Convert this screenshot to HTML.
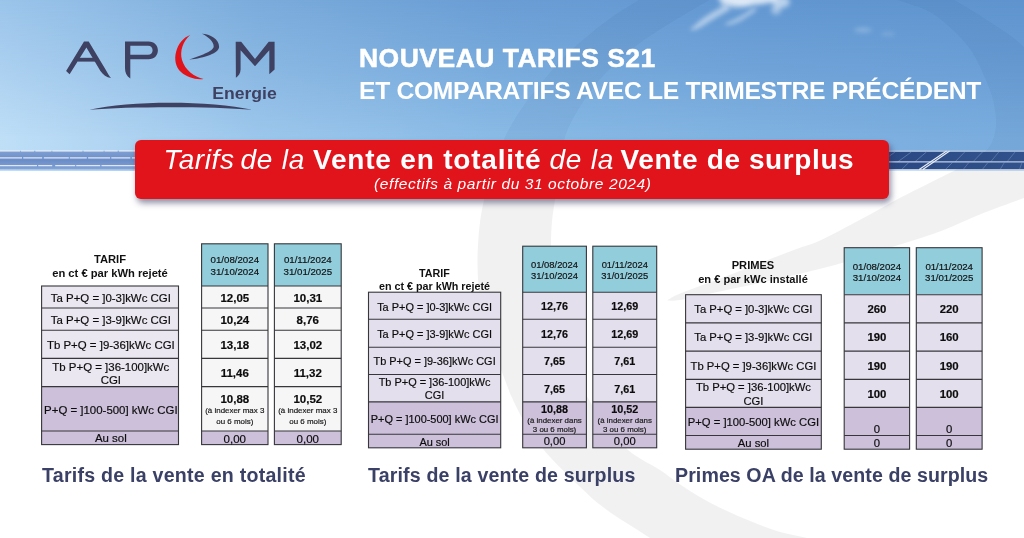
<!DOCTYPE html>
<html lang="fr">
<head>
<meta charset="utf-8">
<title>APEM Energie - Nouveau tarifs S21</title>
<style>
html,body{margin:0;padding:0;}
body{width:1024px;height:538px;overflow:hidden;position:relative;background:#fff;font-family:"Liberation Sans",sans-serif;}
#stage{position:absolute;left:0;top:0;width:1024px;height:538px;overflow:hidden;background:#fff;}
#txt{position:absolute;left:0;top:0;width:1024px;height:538px;will-change:transform;}
.abs{position:absolute;}
#skyb{left:0;top:0;width:1024px;height:171px;background:linear-gradient(90deg,#bfdff7 0%,#9dc7ec 25%,#8abbe6 48%,#80b2e1 75%,#7aaddf 100%);}
#skyt{left:0;top:0;width:1024px;height:171px;background:linear-gradient(90deg,#9bc4ea 0%,#7aabdb 25%,#6a9dd4 48%,#6196d0 75%,#5e93ce 100%);-webkit-mask-image:linear-gradient(180deg,#000 0%,rgba(0,0,0,.52) 42%,rgba(0,0,0,0) 80%);mask-image:linear-gradient(180deg,#000 0%,rgba(0,0,0,.52) 42%,rgba(0,0,0,0) 80%);}
#bgsvg{left:0;top:0;width:1024px;height:538px;}
#banner{left:135px;top:139.5px;width:754px;height:59px;background:#e1141c;border-radius:6px;box-shadow:2px 4px 6px rgba(50,50,90,.55);}
#b1{left:135px;top:144.2px;width:754px;height:32px;line-height:32px;color:#fff;white-space:nowrap;font-size:28px;}
#b1 span{position:absolute;top:0;white-space:nowrap;}
#b1 .it{font-style:italic;font-weight:400;}
#b1 .bd{font-weight:700;}
#b2{left:374.2px;top:174px;height:20px;line-height:20px;color:#fff;font-style:italic;font-size:15.5px;letter-spacing:.6px;white-space:nowrap;}
.h1,#b1,#b2,.cap,#logo{will-change:transform;}
.h1{color:#fff;font-weight:700;white-space:nowrap;left:360px;}
#h1a{-webkit-text-stroke:.5px #fff;top:40px;font-size:26.5px;line-height:36px;letter-spacing:.48px;left:358.5px;}
#h1b{top:72.5px;font-size:24.7px;line-height:36px;letter-spacing:-.32px;left:358.5px;}
.cap{color:#3b4166;font-weight:700;font-size:19.6px;line-height:26px;white-space:nowrap;top:462.1px;}
.c{position:absolute;box-sizing:border-box;display:flex;align-items:center;justify-content:center;text-align:center;color:#0c0c0c;-webkit-text-stroke:.18px #0c0c0c;font-size:11px;line-height:12px;white-space:nowrap;}
.c b{font-weight:700;}
.c u{text-decoration:none;}
.hd{color:#141414;}
.tt{position:absolute;text-align:center;font-weight:700;color:#111;white-space:nowrap;}
.mx{display:block;}
.mx b{display:block;}
.mx i{display:block;font-style:normal;color:#222;}
.bt{align-self:flex-end;margin-bottom:1px;}
/* table 1 */
.lab.t1{font-size:11.45px;line-height:13.8px;}
.hd.t1{font-size:9.7px;line-height:11.6px;}
.val.t1 b{font-size:11.5px;line-height:12.5px;}
.val.t1 u{font-size:11.5px;}
.val.t1 .mx i{font-size:7.95px;line-height:10.4px;margin-top:.6px;}
.tt.t1{font-size:11.2px;line-height:14.3px;}
/* table 2 */
.lab.t2{font-size:10.95px;line-height:13px;}
.hd.t2{font-size:9.38px;line-height:11.1px;}
.val.t2 b{font-size:10.8px;line-height:12px;}
.val.t2 u{font-size:11.2px;}
.val.t2 .mx i{font-size:7.9px;line-height:9.4px;margin-top:.5px;}
.tt.t2{font-size:10.76px;line-height:13.5px;}
/* table 3 */
.lab.t3{font-size:11.26px;line-height:13.8px;}
.hd.t3{font-size:9.66px;line-height:11.6px;}
.val.t3 b{font-size:11.4px;line-height:12px;}
.val.t3 u{font-size:11.3px;}
.tt.t3{font-size:11.1px;line-height:14.2px;}
</style>
</head>
<body>
<div id="stage">
<div id="skyb" class="abs"></div>
<div id="skyt" class="abs"></div>
<svg id="bgsvg" class="abs" viewBox="0 0 1024 538">
  <!-- clouds -->
  <defs><filter id="cb" x="-20%" y="-80%" width="140%" height="260%"><feGaussianBlur stdDeviation="2.6"/></filter><filter id="cb2" x="-30%" y="-50%" width="160%" height="200%"><feGaussianBlur stdDeviation="2.2"/></filter></defs>
  <g filter="url(#cb)" fill="#f4f8fd">
    <ellipse cx="748" cy="-2" rx="30" ry="7" opacity=".8"/>
    <ellipse cx="736" cy="4" rx="16" ry="4" opacity=".55"/>
    <ellipse cx="781" cy="2" rx="9" ry="6" opacity=".6"/>
    <ellipse cx="776" cy="10" rx="5" ry="4.5" opacity=".45"/>
  </g>
  <g filter="url(#cb2)" fill="#f4f8fd">
    <path d="M726 5 C714 10 700 19 690 30 C694 31 700 28 706 24 C714 19 722 14 730 10 Z" opacity=".5"/>
    <path d="M752 8 C746 13 736 19 724 24 C728 27 738 23 744 19 C750 15 755 12 758 9 Z" opacity=".42"/>
    <ellipse cx="863" cy="30" rx="9" ry="3" opacity=".2"/>
    <ellipse cx="888" cy="34" rx="7" ry="2.4" opacity=".13"/>
  </g>
  <!-- solar strip left -->
  <defs><linearGradient id="sl" x1="0" y1="0" x2="0" y2="1"><stop offset="0" stop-color="#7f9fd2"/><stop offset=".5" stop-color="#6b8dc7"/><stop offset=".85" stop-color="#7a9bd0"/><stop offset="1" stop-color="#88a5d6"/></linearGradient>
  <linearGradient id="sr" x1="0" y1="0" x2="1" y2="0"><stop offset="0" stop-color="#2a4883"/><stop offset="1" stop-color="#33558f"/></linearGradient></defs>
  <rect x="0" y="151.2" width="136" height="18.2" fill="url(#sl)"/>
  <g stroke-width="1.3" fill="none">
    <path d="M0 150.8H136" stroke="#e3ebf6" stroke-dasharray="20 1 13 1.4 16 1 30 1.2"/>
    <path d="M0 157.9H136" stroke="#dfe7f4" stroke-dasharray="22 1.2 19 1.6 25 1 17 1.3"/>
    <path d="M0 165.6H136" stroke="#dfe7f4" stroke-dasharray="37 1.2 14 3 20 1 24 1.3"/>
  </g>
  <!-- solar strip right -->
  <rect x="888" y="151.5" width="136" height="18" fill="url(#sr)"/>
  <path d="M888 151.2H1024" stroke="#b9c8e2" stroke-width="1.3"/>
  <g stroke="#7089ba" stroke-width=".65" fill="none">
    <path d="M895 152L889.5 156M911.3 152L897.7 161.9M926.4 152L914.8 161.9M908.6 162.6L901.8 169.4M964.7 152L955 161.9M982.4 152L972.9 161.9M998.8 152L990.6 161.9M1015 152L1007 161.9M952.4 162.6L945.5 169.4M968.8 162.6L963.3 169.4M987.9 162.6L982.4 169.4M1004.3 162.6L1000.2 169.4M1022 162.6L1019.5 169.4"/>
  </g>
  <path d="M888 161.9H1024" stroke="#c3cfe6" stroke-width="1.4"/>
  <path d="M946.6 151L919.2 169.6M949.6 151L922.8 169.6" stroke="#e6ecf6" stroke-width="1.2" fill="none"/>
  <rect x="888" y="169.4" width="136" height="1.2" fill="#fff"/>
  <!-- swoosh -->
  <defs><clipPath id="cs"><rect x="0" y="0" width="1024" height="170.5"/></clipPath><clipPath id="cw"><rect x="0" y="170.5" width="1024" height="368"/></clipPath></defs>
  <path d="M650.0 538.0 C647.7 536.5 641.5 532.5 636.0 529.0 C630.5 525.5 623.5 521.4 617.0 517.0 C610.5 512.6 603.5 507.8 597.0 502.5 C590.5 497.2 584.5 491.2 578.0 485.0 C571.5 478.8 564.0 471.6 558.0 465.4 C552.0 459.2 547.3 454.5 542.0 447.8 C536.7 441.1 530.8 433.0 526.0 425.0 C521.2 417.0 516.8 408.3 513.0 400.0 C509.2 391.7 506.5 384.2 503.0 375.0 C499.5 365.8 495.2 355.0 492.0 345.0 C488.8 335.0 486.2 324.2 484.0 315.0 C481.8 305.8 480.1 298.3 479.0 290.0 C477.9 281.7 477.7 272.5 477.5 265.0 C477.3 257.5 477.6 252.2 478.0 245.0 C478.4 237.8 479.0 229.5 480.0 222.0 C481.0 214.5 482.0 208.5 484.0 200.0 C486.0 191.5 488.5 181.5 492.0 171.0 C495.5 160.5 500.0 147.5 505.0 137.0 C510.0 126.5 515.7 117.3 522.0 108.0 C528.3 98.7 535.8 89.7 543.0 81.0 C550.2 72.3 557.2 63.8 565.0 56.0 C572.8 48.2 582.2 40.5 590.0 34.0 C597.8 27.5 604.7 22.2 612.0 17.0 C619.3 11.8 626.0 7.8 634.0 3.0 C642.0 -1.8 639.0 -3.2 660.0 -12.0 C681.0 -20.8 723.3 -45.3 760.0 -50.0 C796.7 -54.7 847.7 -48.3 880.0 -40.0 C912.3 -31.7 935.7 -10.3 954.0 0.0 C972.3 10.3 978.3 14.2 990.0 22.0 C1001.7 29.8 1012.3 35.7 1024.0 47.0 C1035.7 58.3 1051.5 72.8 1060.0 90.0 C1068.5 107.2 1075.0 134.2 1075.0 150.0 C1075.0 165.8 1068.5 177.0 1060.0 185.0 C1051.5 193.0 1030.0 195.8 1024.0 198.0 L1024.0 198.0 C1017.2 200.5 997.1 207.6 983.5 213.0 C969.9 218.4 956.2 225.3 942.6 230.5 C929.0 235.7 914.2 240.0 901.8 244.0 C889.4 248.0 879.1 251.0 868.0 254.5 C856.9 258.0 847.2 261.6 835.0 265.0 C822.8 268.4 808.3 271.8 795.0 275.0 C781.7 278.2 768.3 281.1 755.0 284.0 C741.7 286.9 727.5 289.8 715.0 292.5 C702.5 295.2 688.0 298.7 680.0 300.0 C672.0 301.3 669.2 300.4 667.0 300.5 L667.0 300.5 C669.2 299.3 672.0 296.8 680.0 293.5 C688.0 290.2 702.5 285.2 715.0 280.5 C727.5 275.8 741.7 270.2 755.0 265.0 C768.3 259.8 784.2 253.6 795.0 249.5 C805.8 245.4 809.0 245.5 820.0 240.5 C831.0 235.5 847.3 226.6 861.0 219.3 C874.7 212.0 888.4 204.0 902.0 196.8 C915.6 189.7 933.8 180.8 942.6 176.4 C951.4 172.0 949.6 173.1 955.0 170.2 C960.4 167.3 969.2 163.0 975.0 159.0 C980.8 155.0 986.5 151.7 990.0 146.0 C993.5 140.3 995.5 132.7 996.0 125.0 C996.5 117.3 994.8 107.8 993.0 100.0 C991.2 92.2 988.5 86.0 985.0 78.0 C981.5 70.0 977.2 59.8 972.0 52.0 C966.8 44.2 961.0 37.7 954.0 31.0 C947.0 24.3 939.3 17.2 930.0 12.0 C920.7 6.8 909.7 4.5 898.0 0.0 C886.3 -4.5 876.3 -10.8 860.0 -15.0 C843.7 -19.2 820.0 -25.0 800.0 -25.0 C780.0 -25.0 754.2 -18.7 740.0 -15.0 C725.8 -11.3 721.8 -6.5 715.0 -3.0 C708.2 0.5 705.3 2.3 699.0 6.0 C692.7 9.7 685.2 14.0 677.0 19.0 C668.8 24.0 658.3 30.3 650.0 36.0 C641.7 41.7 633.7 47.5 627.0 53.0 C620.3 58.5 615.2 63.8 610.0 69.0 C604.8 74.2 601.3 77.2 596.0 84.0 C590.7 90.8 583.2 101.2 578.0 110.0 C572.8 118.8 568.0 126.8 565.0 137.0 C562.0 147.2 561.7 160.5 560.0 171.0 C558.3 181.5 556.3 191.5 555.0 200.0 C553.7 208.5 552.7 214.5 552.0 222.0 C551.3 229.5 551.0 236.2 551.0 245.0 C551.0 253.8 551.2 264.2 552.0 275.0 C552.8 285.8 554.2 299.2 556.0 310.0 C557.8 320.8 560.0 330.0 563.0 340.0 C566.0 350.0 569.8 360.3 574.0 370.0 C578.2 379.7 582.7 388.8 588.0 398.0 C593.3 407.2 599.7 416.7 606.0 425.0 C612.3 433.3 620.2 442.3 626.0 448.0 C631.8 453.7 635.3 455.3 641.0 459.0 C646.7 462.7 653.6 465.8 660.0 470.0 C666.4 474.2 673.0 479.6 679.5 484.0 C686.0 488.4 692.5 492.8 699.0 496.6 C705.5 500.4 712.1 503.8 718.6 507.0 C725.1 510.2 731.5 513.2 738.0 516.0 C744.5 518.8 751.2 521.5 757.7 524.0 C764.2 526.5 770.5 529.0 777.0 531.0 C783.5 533.0 791.5 534.5 796.7 535.7 C801.9 536.9 806.1 537.6 808.0 538.0 Z" fill="rgba(10,30,80,0.04)" clip-path="url(#cs)"/>
  <path d="M650.0 538.0 C647.7 536.5 641.5 532.5 636.0 529.0 C630.5 525.5 623.5 521.4 617.0 517.0 C610.5 512.6 603.5 507.8 597.0 502.5 C590.5 497.2 584.5 491.2 578.0 485.0 C571.5 478.8 564.0 471.6 558.0 465.4 C552.0 459.2 547.3 454.5 542.0 447.8 C536.7 441.1 530.8 433.0 526.0 425.0 C521.2 417.0 516.8 408.3 513.0 400.0 C509.2 391.7 506.5 384.2 503.0 375.0 C499.5 365.8 495.2 355.0 492.0 345.0 C488.8 335.0 486.2 324.2 484.0 315.0 C481.8 305.8 480.1 298.3 479.0 290.0 C477.9 281.7 477.7 272.5 477.5 265.0 C477.3 257.5 477.6 252.2 478.0 245.0 C478.4 237.8 479.0 229.5 480.0 222.0 C481.0 214.5 482.0 208.5 484.0 200.0 C486.0 191.5 488.5 181.5 492.0 171.0 C495.5 160.5 500.0 147.5 505.0 137.0 C510.0 126.5 515.7 117.3 522.0 108.0 C528.3 98.7 535.8 89.7 543.0 81.0 C550.2 72.3 557.2 63.8 565.0 56.0 C572.8 48.2 582.2 40.5 590.0 34.0 C597.8 27.5 604.7 22.2 612.0 17.0 C619.3 11.8 626.0 7.8 634.0 3.0 C642.0 -1.8 639.0 -3.2 660.0 -12.0 C681.0 -20.8 723.3 -45.3 760.0 -50.0 C796.7 -54.7 847.7 -48.3 880.0 -40.0 C912.3 -31.7 935.7 -10.3 954.0 0.0 C972.3 10.3 978.3 14.2 990.0 22.0 C1001.7 29.8 1012.3 35.7 1024.0 47.0 C1035.7 58.3 1051.5 72.8 1060.0 90.0 C1068.5 107.2 1075.0 134.2 1075.0 150.0 C1075.0 165.8 1068.5 177.0 1060.0 185.0 C1051.5 193.0 1030.0 195.8 1024.0 198.0 L1024.0 198.0 C1017.2 200.5 997.1 207.6 983.5 213.0 C969.9 218.4 956.2 225.3 942.6 230.5 C929.0 235.7 914.2 240.0 901.8 244.0 C889.4 248.0 879.1 251.0 868.0 254.5 C856.9 258.0 847.2 261.6 835.0 265.0 C822.8 268.4 808.3 271.8 795.0 275.0 C781.7 278.2 768.3 281.1 755.0 284.0 C741.7 286.9 727.5 289.8 715.0 292.5 C702.5 295.2 688.0 298.7 680.0 300.0 C672.0 301.3 669.2 300.4 667.0 300.5 L667.0 300.5 C669.2 299.3 672.0 296.8 680.0 293.5 C688.0 290.2 702.5 285.2 715.0 280.5 C727.5 275.8 741.7 270.2 755.0 265.0 C768.3 259.8 784.2 253.6 795.0 249.5 C805.8 245.4 809.0 245.5 820.0 240.5 C831.0 235.5 847.3 226.6 861.0 219.3 C874.7 212.0 888.4 204.0 902.0 196.8 C915.6 189.7 933.8 180.8 942.6 176.4 C951.4 172.0 949.6 173.1 955.0 170.2 C960.4 167.3 969.2 163.0 975.0 159.0 C980.8 155.0 986.5 151.7 990.0 146.0 C993.5 140.3 995.5 132.7 996.0 125.0 C996.5 117.3 994.8 107.8 993.0 100.0 C991.2 92.2 988.5 86.0 985.0 78.0 C981.5 70.0 977.2 59.8 972.0 52.0 C966.8 44.2 961.0 37.7 954.0 31.0 C947.0 24.3 939.3 17.2 930.0 12.0 C920.7 6.8 909.7 4.5 898.0 0.0 C886.3 -4.5 876.3 -10.8 860.0 -15.0 C843.7 -19.2 820.0 -25.0 800.0 -25.0 C780.0 -25.0 754.2 -18.7 740.0 -15.0 C725.8 -11.3 721.8 -6.5 715.0 -3.0 C708.2 0.5 705.3 2.3 699.0 6.0 C692.7 9.7 685.2 14.0 677.0 19.0 C668.8 24.0 658.3 30.3 650.0 36.0 C641.7 41.7 633.7 47.5 627.0 53.0 C620.3 58.5 615.2 63.8 610.0 69.0 C604.8 74.2 601.3 77.2 596.0 84.0 C590.7 90.8 583.2 101.2 578.0 110.0 C572.8 118.8 568.0 126.8 565.0 137.0 C562.0 147.2 561.7 160.5 560.0 171.0 C558.3 181.5 556.3 191.5 555.0 200.0 C553.7 208.5 552.7 214.5 552.0 222.0 C551.3 229.5 551.0 236.2 551.0 245.0 C551.0 253.8 551.2 264.2 552.0 275.0 C552.8 285.8 554.2 299.2 556.0 310.0 C557.8 320.8 560.0 330.0 563.0 340.0 C566.0 350.0 569.8 360.3 574.0 370.0 C578.2 379.7 582.7 388.8 588.0 398.0 C593.3 407.2 599.7 416.7 606.0 425.0 C612.3 433.3 620.2 442.3 626.0 448.0 C631.8 453.7 635.3 455.3 641.0 459.0 C646.7 462.7 653.6 465.8 660.0 470.0 C666.4 474.2 673.0 479.6 679.5 484.0 C686.0 488.4 692.5 492.8 699.0 496.6 C705.5 500.4 712.1 503.8 718.6 507.0 C725.1 510.2 731.5 513.2 738.0 516.0 C744.5 518.8 751.2 521.5 757.7 524.0 C764.2 526.5 770.5 529.0 777.0 531.0 C783.5 533.0 791.5 534.5 796.7 535.7 C801.9 536.9 806.1 537.6 808.0 538.0 Z" fill="rgba(0,0,0,0.055)" clip-path="url(#cw)"/>
</svg>
<div id="banner" class="abs"></div>
<div id="b1" class="abs"><span class="it" style="left:28.5px;letter-spacing:.6px">Tarifs</span><span class="it" style="left:105.5px;letter-spacing:.78px">de la</span><span class="bd" style="left:178px;letter-spacing:.8px">Vente en totalité</span><span class="it" style="left:414.5px;letter-spacing:.78px">de la</span><span class="bd" style="left:485.6px;letter-spacing:.6px">Vente de surplus</span></div>
<div id="b2" class="abs">(effectifs à partir du 31 octobre 2024)</div>
<div id="h1a" class="abs h1">NOUVEAU TARIFS S21</div>
<div id="h1b" class="abs h1">ET COMPARATIFS AVEC LE TRIMESTRE PRÉCÉDENT</div>
<svg id="logo" class="abs" style="left:0;top:0;width:300px;height:125px" viewBox="0 0 300 125">
  <g fill="#3e4162">
    <!-- A -->
    <path d="M84 41.4 L88.7 41.4 L105.7 69.8 C107.5 73 109 76 111 78 C106.5 77.3 103 74.8 100.4 71 L86.4 47.6 L69.6 74.3 L66.1 71 Z"/>
    <rect x="77.5" y="57.8" width="19.5" height="3.8"/>
    <!-- P -->
    <path d="M125 41.4 L148.5 41.4 C154.5 41.4 157.9 45.5 157.9 50.3 C157.9 55.3 154.5 59.3 148.5 59.3 L130.3 59.3 L130.3 78.6 C126.5 76 125 72.5 125 68 Z M130.3 45.8 L130.3 54.8 L148 54.8 C151 54.8 152.6 52.8 152.6 50.3 C152.6 47.8 151 45.8 148 45.8 Z" fill-rule="evenodd"/>
    <!-- e hook -->
    <path d="M201.9 33.8 C210 34 219.1 39 219.1 46.7 C219.1 53 205 58 189 59.6 C199 56 213.5 51.5 213.7 46.5 C213.8 41.5 208 36.5 201.9 33.8 Z"/>
    <!-- M -->
    <path d="M235.7 41.8 L241.2 41.8 L255 59 L268.7 41.8 L274.6 41.8 L274.6 69.5 L269.3 74.2 L269.3 50.2 L255 66.3 L240.6 50.2 L240.6 69.5 C240.4 73.5 238.5 76 235.9 77.7 Z"/>
    <!-- underline arc -->
    <path d="M89.2 109.7 C130 100.3 210 100.3 252.3 109.7 C210 106.4 130 106.4 89.2 109.7 Z"/>
  </g>
  <!-- red crescent -->
  <path d="M190.2 35 C176 40 170 62 181 72 C187 77.5 196 80 203.7 78.9 C194 77 185 70 182 60 C179.5 51 183 41 190.2 35 Z" fill="#e1141c"/>
  <text x="212.2" y="98.8" font-family="Liberation Sans, sans-serif" font-weight="700" font-size="16.4" fill="#3e4162" textLength="64.5" lengthAdjust="spacingAndGlyphs">Energie</text>
</svg>
<svg class="abs" style="left:0;top:0;width:1024px;height:538px" viewBox="0 0 1024 538"><g><rect x="41.60" y="286.00" width="136.90" height="22.00" fill="#ebe7f0"/><rect x="41.60" y="308.00" width="136.90" height="22.20" fill="#ebe7f0"/><rect x="41.60" y="330.20" width="136.90" height="28.20" fill="#ebe7f0"/><rect x="41.60" y="358.40" width="136.90" height="28.20" fill="#ebe7f0"/><rect x="41.60" y="386.60" width="136.90" height="44.40" fill="#ccc0da"/><rect x="41.60" y="431.00" width="136.90" height="13.60" fill="#ccc0da"/><rect x="201.60" y="243.80" width="66.40" height="42.20" fill="#92cddc"/><rect x="201.60" y="286.00" width="66.40" height="22.00" fill="#f6f6f6"/><rect x="201.60" y="308.00" width="66.40" height="22.20" fill="#f6f6f6"/><rect x="201.60" y="330.20" width="66.40" height="28.20" fill="#f6f6f6"/><rect x="201.60" y="358.40" width="66.40" height="28.20" fill="#f6f6f6"/><rect x="201.60" y="386.60" width="66.40" height="44.40" fill="#f6f6f6"/><rect x="201.60" y="431.00" width="66.40" height="13.60" fill="#ccc0da"/><rect x="274.40" y="243.80" width="66.80" height="42.20" fill="#92cddc"/><rect x="274.40" y="286.00" width="66.80" height="22.00" fill="#f6f6f6"/><rect x="274.40" y="308.00" width="66.80" height="22.20" fill="#f6f6f6"/><rect x="274.40" y="330.20" width="66.80" height="28.20" fill="#f6f6f6"/><rect x="274.40" y="358.40" width="66.80" height="28.20" fill="#f6f6f6"/><rect x="274.40" y="386.60" width="66.80" height="44.40" fill="#f6f6f6"/><rect x="274.40" y="431.00" width="66.80" height="13.60" fill="#ccc0da"/><rect x="368.50" y="292.20" width="132.20" height="27.00" fill="#e4dfec"/><rect x="368.50" y="319.20" width="132.20" height="28.00" fill="#e4dfec"/><rect x="368.50" y="347.20" width="132.20" height="27.30" fill="#e4dfec"/><rect x="368.50" y="374.50" width="132.20" height="27.40" fill="#e4dfec"/><rect x="368.50" y="401.90" width="132.20" height="32.30" fill="#ccc0da"/><rect x="368.50" y="434.20" width="132.20" height="13.60" fill="#ccc0da"/><rect x="522.70" y="246.20" width="63.70" height="46.00" fill="#92cddc"/><rect x="522.70" y="292.20" width="63.70" height="27.00" fill="#e4dfec"/><rect x="522.70" y="319.20" width="63.70" height="28.00" fill="#e4dfec"/><rect x="522.70" y="347.20" width="63.70" height="27.30" fill="#e4dfec"/><rect x="522.70" y="374.50" width="63.70" height="27.40" fill="#e4dfec"/><rect x="522.70" y="401.90" width="63.70" height="32.30" fill="#ccc0da"/><rect x="522.70" y="434.20" width="63.70" height="13.60" fill="#ccc0da"/><rect x="592.80" y="246.20" width="63.90" height="46.00" fill="#92cddc"/><rect x="592.80" y="292.20" width="63.90" height="27.00" fill="#e4dfec"/><rect x="592.80" y="319.20" width="63.90" height="28.00" fill="#e4dfec"/><rect x="592.80" y="347.20" width="63.90" height="27.30" fill="#e4dfec"/><rect x="592.80" y="374.50" width="63.90" height="27.40" fill="#e4dfec"/><rect x="592.80" y="401.90" width="63.90" height="32.30" fill="#ccc0da"/><rect x="592.80" y="434.20" width="63.90" height="13.60" fill="#ccc0da"/><rect x="685.60" y="294.70" width="135.70" height="28.20" fill="#e4dfec"/><rect x="685.60" y="322.90" width="135.70" height="28.20" fill="#e4dfec"/><rect x="685.60" y="351.10" width="135.70" height="28.30" fill="#e4dfec"/><rect x="685.60" y="379.40" width="135.70" height="28.00" fill="#e4dfec"/><rect x="685.60" y="407.40" width="135.70" height="28.10" fill="#ccc0da"/><rect x="685.60" y="435.50" width="135.70" height="13.70" fill="#ccc0da"/><rect x="844.20" y="247.70" width="65.40" height="47.00" fill="#92cddc"/><rect x="844.20" y="294.70" width="65.40" height="28.20" fill="#e4dfec"/><rect x="844.20" y="322.90" width="65.40" height="28.20" fill="#e4dfec"/><rect x="844.20" y="351.10" width="65.40" height="28.30" fill="#e4dfec"/><rect x="844.20" y="379.40" width="65.40" height="28.00" fill="#e4dfec"/><rect x="844.20" y="407.40" width="65.40" height="28.10" fill="#ccc0da"/><rect x="844.20" y="435.50" width="65.40" height="13.70" fill="#ccc0da"/><rect x="916.30" y="247.70" width="65.80" height="47.00" fill="#92cddc"/><rect x="916.30" y="294.70" width="65.80" height="28.20" fill="#e4dfec"/><rect x="916.30" y="322.90" width="65.80" height="28.20" fill="#e4dfec"/><rect x="916.30" y="351.10" width="65.80" height="28.30" fill="#e4dfec"/><rect x="916.30" y="379.40" width="65.80" height="28.00" fill="#e4dfec"/><rect x="916.30" y="407.40" width="65.80" height="28.10" fill="#ccc0da"/><rect x="916.30" y="435.50" width="65.80" height="13.70" fill="#ccc0da"/></g><g fill="none" stroke="#36363b" stroke-width="1.1"><rect x="41.60" y="286.00" width="136.90" height="158.60"/><path d="M41.60 308.00H178.50"/><path d="M41.60 330.20H178.50"/><path d="M41.60 358.40H178.50"/><path d="M41.60 386.60H178.50"/><path d="M41.60 431.00H178.50"/><rect x="201.60" y="243.80" width="66.40" height="200.80"/><path d="M201.60 286.00H268.00"/><path d="M201.60 308.00H268.00"/><path d="M201.60 330.20H268.00"/><path d="M201.60 358.40H268.00"/><path d="M201.60 386.60H268.00"/><path d="M201.60 431.00H268.00"/><rect x="274.40" y="243.80" width="66.80" height="200.80"/><path d="M274.40 286.00H341.20"/><path d="M274.40 308.00H341.20"/><path d="M274.40 330.20H341.20"/><path d="M274.40 358.40H341.20"/><path d="M274.40 386.60H341.20"/><path d="M274.40 431.00H341.20"/><rect x="368.50" y="292.20" width="132.20" height="155.60"/><path d="M368.50 319.20H500.70"/><path d="M368.50 347.20H500.70"/><path d="M368.50 374.50H500.70"/><path d="M368.50 401.90H500.70"/><path d="M368.50 434.20H500.70"/><rect x="522.70" y="246.20" width="63.70" height="201.60"/><path d="M522.70 292.20H586.40"/><path d="M522.70 319.20H586.40"/><path d="M522.70 347.20H586.40"/><path d="M522.70 374.50H586.40"/><path d="M522.70 401.90H586.40"/><path d="M522.70 434.20H586.40"/><rect x="592.80" y="246.20" width="63.90" height="201.60"/><path d="M592.80 292.20H656.70"/><path d="M592.80 319.20H656.70"/><path d="M592.80 347.20H656.70"/><path d="M592.80 374.50H656.70"/><path d="M592.80 401.90H656.70"/><path d="M592.80 434.20H656.70"/><rect x="685.60" y="294.70" width="135.70" height="154.50"/><path d="M685.60 322.90H821.30"/><path d="M685.60 351.10H821.30"/><path d="M685.60 379.40H821.30"/><path d="M685.60 407.40H821.30"/><path d="M685.60 435.50H821.30"/><rect x="844.20" y="247.70" width="65.40" height="201.50"/><path d="M844.20 294.70H909.60"/><path d="M844.20 322.90H909.60"/><path d="M844.20 351.10H909.60"/><path d="M844.20 379.40H909.60"/><path d="M844.20 407.40H909.60"/><path d="M844.20 435.50H909.60"/><rect x="916.30" y="247.70" width="65.80" height="201.50"/><path d="M916.30 294.70H982.10"/><path d="M916.30 322.90H982.10"/><path d="M916.30 351.10H982.10"/><path d="M916.30 379.40H982.10"/><path d="M916.30 407.40H982.10"/><path d="M916.30 435.50H982.10"/></g></svg>
<div id="txt"><div class="tt t1" style="left:30px;width:160px;top:252px">TARIF<br>en ct € par kWh rejeté</div>
<div class="c lab t1 r1" style="left:42.40px;top:287.70px;width:136.90px;height:22.00px">Ta P+Q = ]0-3]kWc CGI</div>
<div class="c lab t1 r2" style="left:42.40px;top:309.70px;width:136.90px;height:22.20px">Ta P+Q = ]3-9]kWc CGI</div>
<div class="c lab t1 r3" style="left:42.40px;top:331.60px;width:136.90px;height:28.20px">Tb P+Q = ]9-36]kWc CGI</div>
<div class="c lab t1 r4" style="left:42.40px;top:360.40px;width:136.90px;height:28.20px"><span>Tb P+Q = ]36-100]kWc<br>CGI</span></div>
<div class="c lab t1 r5" style="left:42.40px;top:388.90px;width:136.90px;height:44.40px">P+Q = ]100-500] kWc CGI</div>
<div class="c lab t1 r6" style="left:42.40px;top:432.50px;width:136.90px;height:13.60px">Au sol</div>
<div class="c hd t1" style="left:201.60px;top:244.60px;width:66.40px;height:42.20px"><span>01/08/2024<br>31/10/2024</span></div>
<div class="c val t1 r1" style="left:201.60px;top:287.00px;width:66.40px;height:22.00px"><b>12,05</b></div>
<div class="c val t1 r2" style="left:201.60px;top:309.00px;width:66.40px;height:22.20px"><b>10,24</b></div>
<div class="c val t1 r3" style="left:201.60px;top:331.20px;width:66.40px;height:28.20px"><b>13,18</b></div>
<div class="c val t1 r4" style="left:201.60px;top:359.40px;width:66.40px;height:28.20px"><b>11,46</b></div>
<div class="c val t1 r5" style="left:201.60px;top:387.90px;width:66.40px;height:44.40px"><span class="mx"><b>10,88</b><i>(à indexer max 3<br>ou 6 mois)</i></span></div>
<div class="c val t1 r6" style="left:201.60px;top:432.00px;width:66.40px;height:13.60px"><u>0,00</u></div>
<div class="c hd t1" style="left:274.40px;top:244.60px;width:66.80px;height:42.20px"><span>01/11/2024<br>31/01/2025</span></div>
<div class="c val t1 r1" style="left:274.40px;top:287.00px;width:66.80px;height:22.00px"><b>10,31</b></div>
<div class="c val t1 r2" style="left:274.40px;top:309.00px;width:66.80px;height:22.20px"><b>8,76</b></div>
<div class="c val t1 r3" style="left:274.40px;top:331.20px;width:66.80px;height:28.20px"><b>13,02</b></div>
<div class="c val t1 r4" style="left:274.40px;top:359.40px;width:66.80px;height:28.20px"><b>11,32</b></div>
<div class="c val t1 r5" style="left:274.40px;top:387.90px;width:66.80px;height:44.40px"><span class="mx"><b>10,52</b><i>(à indexer max 3<br>ou 6 mois)</i></span></div>
<div class="c val t1 r6" style="left:274.40px;top:432.00px;width:66.80px;height:13.60px"><u>0,00</u></div>
<div class="tt t2" style="left:354.5px;width:160px;top:266.9px">TARIF<br>en ct € par kWh rejeté</div>
<div class="c lab t2 r1" style="left:368.50px;top:293.70px;width:132.20px;height:27.00px">Ta P+Q = ]0-3]kWc CGI</div>
<div class="c lab t2 r2" style="left:368.50px;top:320.70px;width:132.20px;height:28.00px">Ta P+Q = ]3-9]kWc CGI</div>
<div class="c lab t2 r3" style="left:368.50px;top:348.00px;width:132.20px;height:27.30px">Tb P+Q = ]9-36]kWc CGI</div>
<div class="c lab t2 r4" style="left:368.50px;top:375.50px;width:132.20px;height:27.40px"><span>Tb P+Q = ]36-100]kWc<br>CGI</span></div>
<div class="c lab t2 r5" style="left:368.50px;top:403.40px;width:132.20px;height:32.30px">P+Q = ]100-500] kWc CGI</div>
<div class="c lab t2 r6" style="left:368.50px;top:435.40px;width:132.20px;height:13.60px">Au sol</div>
<div class="c hd t2" style="left:522.70px;top:247.60px;width:63.70px;height:46.00px"><span>01/08/2024<br>31/10/2024</span></div>
<div class="c val t2 r1" style="left:522.70px;top:292.80px;width:63.70px;height:27.00px"><b>12,76</b></div>
<div class="c val t2 r2" style="left:522.70px;top:319.80px;width:63.70px;height:28.00px"><b>12,76</b></div>
<div class="c val t2 r3" style="left:522.70px;top:347.70px;width:63.70px;height:27.30px"><b>7,65</b></div>
<div class="c val t2 r4" style="left:522.70px;top:375.30px;width:63.70px;height:27.40px"><b>7,65</b></div>
<div class="c val t2 r5" style="left:522.70px;top:402.90px;width:63.70px;height:32.30px"><span class="mx"><b>10,88</b><i>(à indexer dans<br>3 ou 6 mois)</i></span></div>
<div class="c val t2 r6" style="left:522.70px;top:434.70px;width:63.70px;height:13.60px"><u>0,00</u></div>
<div class="c hd t2" style="left:592.80px;top:247.60px;width:63.90px;height:46.00px"><span>01/11/2024<br>31/01/2025</span></div>
<div class="c val t2 r1" style="left:592.80px;top:292.80px;width:63.90px;height:27.00px"><b>12,69</b></div>
<div class="c val t2 r2" style="left:592.80px;top:319.80px;width:63.90px;height:28.00px"><b>12,69</b></div>
<div class="c val t2 r3" style="left:592.80px;top:347.70px;width:63.90px;height:27.30px"><b>7,61</b></div>
<div class="c val t2 r4" style="left:592.80px;top:375.30px;width:63.90px;height:27.40px"><b>7,61</b></div>
<div class="c val t2 r5" style="left:592.80px;top:402.90px;width:63.90px;height:32.30px"><span class="mx"><b>10,52</b><i>(à indexer dans<br>3 ou 6 mois)</i></span></div>
<div class="c val t2 r6" style="left:592.80px;top:434.70px;width:63.90px;height:13.60px"><u>0,00</u></div>
<div class="tt t3" style="left:673px;width:160px;top:258px">PRIMES<br>en € par kWc installé</div>
<div class="c lab t3 r1" style="left:685.60px;top:296.30px;width:135.70px;height:28.20px">Ta P+Q = ]0-3]kWc CGI</div>
<div class="c lab t3 r2" style="left:685.60px;top:324.20px;width:135.70px;height:28.20px">Ta P+Q = ]3-9]kWc CGI</div>
<div class="c lab t3 r3" style="left:685.60px;top:352.40px;width:135.70px;height:28.30px">Tb P+Q = ]9-36]kWc CGI</div>
<div class="c lab t3 r4" style="left:685.60px;top:380.70px;width:135.70px;height:28.00px"><span>Tb P+Q = ]36-100]kWc<br>CGI</span></div>
<div class="c lab t3 r5" style="left:685.60px;top:409.00px;width:135.70px;height:28.10px">P+Q = ]100-500] kWc CGI</div>
<div class="c lab t3 r6" style="left:685.60px;top:436.80px;width:135.70px;height:13.70px">Au sol</div>
<div class="c hd t3" style="left:844.20px;top:248.80px;width:65.40px;height:47.00px"><span>01/08/2024<br>31/10/2024</span></div>
<div class="c val t3 r1" style="left:844.20px;top:295.10px;width:65.40px;height:28.20px"><b>260</b></div>
<div class="c val t3 r2" style="left:844.20px;top:323.20px;width:65.40px;height:28.20px"><b>190</b></div>
<div class="c val t3 r3" style="left:844.20px;top:351.50px;width:65.40px;height:28.30px"><b>190</b></div>
<div class="c val t3 r4" style="left:844.20px;top:379.90px;width:65.40px;height:28.00px"><b>100</b></div>
<div class="c val t3 r5" style="left:844.20px;top:407.70px;width:65.40px;height:28.10px"><u class="bt">0</u></div>
<div class="c val t3 r6" style="left:844.20px;top:436.00px;width:65.40px;height:13.70px"><u>0</u></div>
<div class="c hd t3" style="left:916.30px;top:248.80px;width:65.80px;height:47.00px"><span>01/11/2024<br>31/01/2025</span></div>
<div class="c val t3 r1" style="left:916.30px;top:295.10px;width:65.80px;height:28.20px"><b>220</b></div>
<div class="c val t3 r2" style="left:916.30px;top:323.20px;width:65.80px;height:28.20px"><b>160</b></div>
<div class="c val t3 r3" style="left:916.30px;top:351.50px;width:65.80px;height:28.30px"><b>190</b></div>
<div class="c val t3 r4" style="left:916.30px;top:379.90px;width:65.80px;height:28.00px"><b>100</b></div>
<div class="c val t3 r5" style="left:916.30px;top:407.70px;width:65.80px;height:28.10px"><u class="bt">0</u></div>
<div class="c val t3 r6" style="left:916.30px;top:436.00px;width:65.80px;height:13.70px"><u>0</u></div></div>
<div class="abs cap" id="cap1" style="left:42px;letter-spacing:.24px">Tarifs de la vente en totalité</div>
<div class="abs cap" id="cap2" style="left:368px;letter-spacing:.15px">Tarifs de la vente de surplus</div>
<div class="abs cap" id="cap3" style="left:675.3px;letter-spacing:.08px">Primes OA de la vente de surplus</div>
</div>
</body>
</html>
